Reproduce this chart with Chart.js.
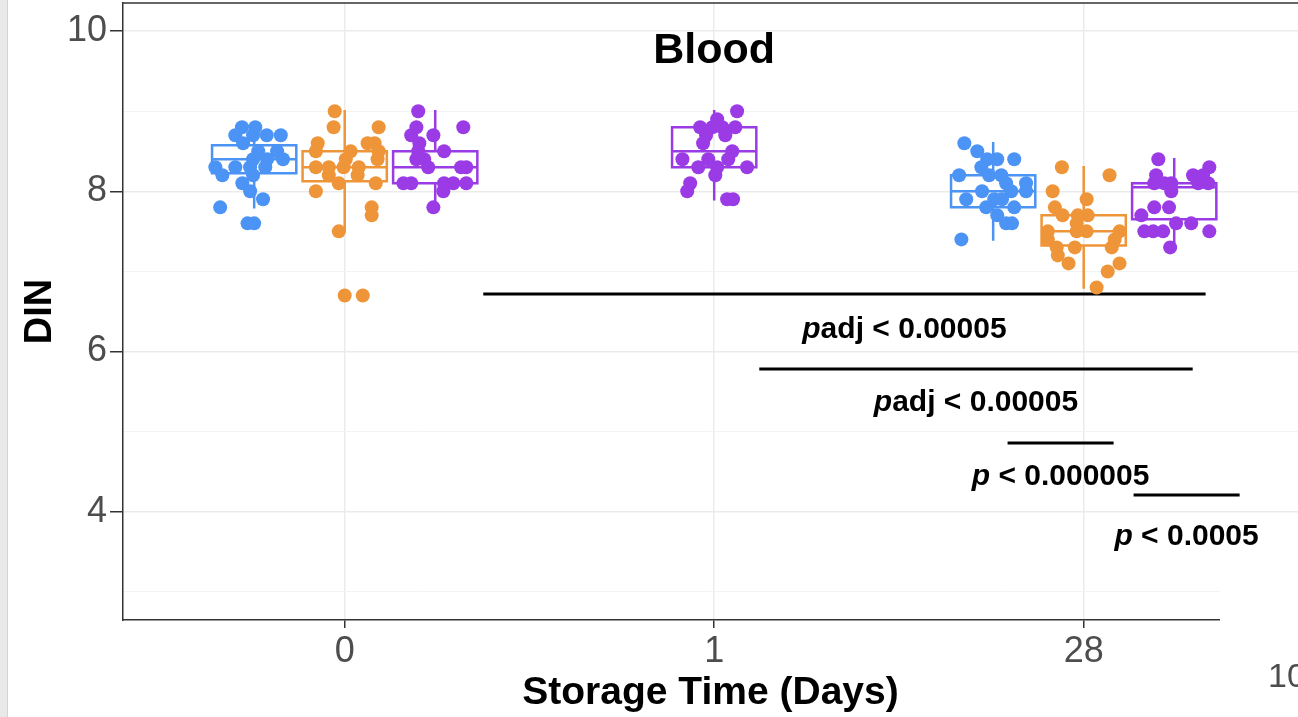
<!DOCTYPE html>
<html>
<head>
<meta charset="utf-8">
<title>DIN – Blood</title>
<script src="https://cdn.jsdelivr.net/npm/chart.js@4"></script>
<style>
  html, body { margin: 0; padding: 0; background: #fff; }
  canvas { display: block; }
</style>
</head>
<body>
<canvas id="chart-din" width="1298" height="717"></canvas>
<script>
// storage days on the x axis
const dayLabels = ['0', '1', '28'];

// one entry per box: day index, dodge slot (-1 left, 0 middle, 1 right), colour group
const boxDay = [0, 0, 0, 1, 2, 2, 2];
const boxSlot = [-1, 0, 1, 0, -1, 0, 1];
const boxGroup = [0, 1, 2, 2, 0, 1, 2];

// box statistics (DIN)
const boxLow  = [7.8, 7.5, 7.8, 7.9, 7.4, 6.8, 7.3];
const boxQ1   = [8.225, 8.125, 8.1, 8.3, 7.8, 7.325, 7.65];
const boxMed  = [8.4, 8.3, 8.3, 8.5, 8.0, 7.5, 8.05];
const boxQ3   = [8.575, 8.5, 8.5, 8.8, 8.2, 7.7, 8.1];
const boxHigh = [8.8, 9.0, 9.0, 9.0, 8.6, 8.3, 8.4];

// samples per box
const sampleDin = [
  [8.8, 8.8, 8.7, 8.7, 8.7, 8.7, 8.6, 8.5, 8.5, 8.4, 8.4, 8.4, 8.3, 8.3, 8.3, 8.3, 8.2, 8.2, 8.1, 8.0, 7.9, 7.8, 7.6, 7.6],
  [9.0, 8.8, 8.8, 8.6, 8.6, 8.6, 8.5, 8.5, 8.5, 8.4, 8.4, 8.3, 8.3, 8.3, 8.3, 8.2, 8.2, 8.1, 8.1, 8.0, 7.8, 7.7, 7.5, 6.7, 6.7],
  [9.0, 8.8, 8.8, 8.7, 8.7, 8.6, 8.5, 8.5, 8.4, 8.4, 8.3, 8.3, 8.3, 8.1, 8.1, 8.1, 8.1, 8.1, 8.0, 7.8],
  [9.0, 8.9, 8.8, 8.8, 8.8, 8.8, 8.7, 8.7, 8.6, 8.5, 8.4, 8.4, 8.4, 8.3, 8.3, 8.3, 8.2, 8.1, 8.0, 7.9, 7.9],
  [8.6, 8.5, 8.4, 8.4, 8.4, 8.3, 8.2, 8.2, 8.2, 8.1, 8.1, 8.0, 8.0, 8.0, 7.9, 7.9, 7.9, 7.8, 7.8, 7.7, 7.6, 7.6, 7.4],
  [8.3, 8.2, 8.0, 7.9, 7.8, 7.7, 7.7, 7.7, 7.6, 7.5, 7.5, 7.5, 7.5, 7.4, 7.4, 7.3, 7.3, 7.3, 7.2, 7.1, 7.1, 7.0, 6.8],
  [8.4, 8.3, 8.2, 8.2, 8.2, 8.1, 8.1, 8.1, 8.1, 8.1, 8.0, 7.8, 7.8, 7.7, 7.6, 7.6, 7.5, 7.5, 7.5, 7.5, 7.3]
];
// horizontal jitter of each sample, in category units
const sampleJitter = [
  [-0.033, 0.003, -0.051, -0.003, 0.034, 0.072, -0.030, 0.011, 0.062, 0.035, -0.003, 0.078, -0.105, -0.051, -0.011, 0.030, -0.086, -0.003, -0.032, -0.011, 0.024, -0.092, -0.018, 0.0],
  [-0.027, -0.030, 0.092, -0.073, 0.062, 0.081, -0.078, 0.016, 0.092, 0.003, 0.089, -0.078, -0.043, -0.003, 0.038, -0.043, 0.035, -0.016, 0.084, -0.078, 0.073, 0.073, -0.016, 0.0, 0.049],
  [-0.046, 0.076, -0.051, -0.065, -0.005, -0.043, 0.024, -0.046, -0.051, -0.030, -0.019, 0.084, 0.070, -0.086, -0.065, 0.024, 0.049, 0.084, 0.022, -0.005],
  [0.062, 0.008, -0.038, -0.005, 0.022, 0.057, -0.022, 0.030, -0.030, 0.049, -0.086, -0.016, 0.038, -0.043, 0.008, 0.089, 0.003, -0.065, -0.073, 0.035, 0.051],
  [-0.078, -0.043, -0.016, 0.011, 0.057, -0.032, -0.092, -0.011, 0.022, 0.089, 0.035, -0.030, 0.049, 0.089, -0.073, 0.003, 0.024, -0.019, 0.057, 0.011, 0.035, 0.051, -0.086],
  [-0.059, 0.070, -0.084, 0.008, -0.078, -0.057, -0.016, 0.011, -0.019, -0.097, -0.019, 0.008, 0.097, 0.084, -0.097, -0.073, -0.024, 0.076, -0.070, -0.041, 0.097, 0.065, 0.035],
  [-0.043, 0.095, -0.049, 0.051, 0.078, -0.027, -0.008, -0.054, 0.065, 0.092, -0.008, -0.054, -0.014, -0.089, 0.005, 0.046, -0.081, -0.057, -0.030, 0.095, -0.011]
];

// pairwise comparison brackets
const sigFrom = [0.375, 1.122, 1.794, 2.135];
const sigTo   = [2.330, 2.295, 2.081, 2.422];
const sigAt   = [6.718, 5.782, 4.858, 4.21];
const sigItalic = ['p', 'p', 'p', 'p'];
const sigRest   = ['adj < 0.00005', 'adj < 0.00005', ' < 0.000005', ' < 0.0005'];

// styling / layout
const groupColors = ['#4b93f4', '#ef9539', '#9a3be6'];
const DODGE = 0.245;
const BOX_HALF = 0.114;
const FONT = '"Liberation Sans", Arimo, Arial, sans-serif';
const labelNudgeX = [60, 0, 0, 0];
const labelDropY = [44, 42, 42, 50];

const xOf = i => boxDay[i] + boxSlot[i] * DODGE;

const datasets = [];

sampleDin.forEach((vals, i) => {
  datasets.push({
    type: 'scatter',
    data: vals.map((v, k) => ({ x: xOf(i) + sampleJitter[i][k], y: v })),
    backgroundColor: groupColors[boxGroup[i]],
    borderWidth: 0,
    pointRadius: 7,
    pointHoverRadius: 7,
    order: 0
  });
});

boxQ1.forEach((q1, i) => {
  const c = xOf(i), l = c - BOX_HALF, r = c + BOX_HALF;
  const q3 = boxQ3[i];
  const gap = { x: c, y: null };
  datasets.push({
    type: 'line',
    data: [
      { x: l, y: q1 }, { x: r, y: q1 }, { x: r, y: q3 }, { x: l, y: q3 }, { x: l, y: q1 }, gap,
      { x: l, y: boxMed[i] }, { x: r, y: boxMed[i] }, gap,
      { x: c, y: q3 }, { x: c, y: boxHigh[i] }, gap,
      { x: c, y: q1 }, { x: c, y: boxLow[i] }
    ],
    borderColor: groupColors[boxGroup[i]],
    borderWidth: 2.5,
    borderJoinStyle: 'miter',
    borderCapStyle: 'square',
    pointRadius: 0,
    fill: false,
    spanGaps: false,
    tension: 0,
    order: 1
  });
});

sigAt.forEach((v, i) => {
  datasets.push({
    type: 'line',
    data: [{ x: sigFrom[i], y: v }, { x: sigTo[i], y: v }],
    borderColor: '#000',
    borderWidth: 3,
    pointRadius: 0,
    fill: false,
    clip: false,
    order: 2
  });
});

const decorations = {
  id: 'decorations',
  beforeDraw(chart) {
    const { ctx } = chart;
    ctx.save();
    ctx.fillStyle = '#e9e9e9';
    ctx.fillRect(0, 0, 7, chart.height);
    ctx.fillStyle = '#d4d4d4';
    ctx.fillRect(7, 0, 1, chart.height);
    ctx.restore();
  },
  afterDraw(chart) {
    const { ctx, chartArea: a, scales: { x, y } } = chart;
    ctx.save();

    // top edge of the panel
    ctx.strokeStyle = '#333';
    ctx.lineWidth = 1.5;
    ctx.beginPath();
    ctx.moveTo(a.left, a.top);
    ctx.lineTo(a.right, a.top);
    ctx.stroke();

    // panel title
    ctx.fillStyle = '#000';
    ctx.textBaseline = 'alphabetic';
    ctx.textAlign = 'center';
    ctx.font = 'bold 43px ' + FONT;
    ctx.fillText('Blood', x.getPixelForValue(1), a.top + 60);

    // comparison labels: italic p followed by the rest
    ctx.textAlign = 'left';
    sigAt.forEach((v, i) => {
      const cx = (x.getPixelForValue(sigFrom[i]) + x.getPixelForValue(sigTo[i])) / 2 + labelNudgeX[i];
      const by = y.getPixelForValue(v) + labelDropY[i];
      ctx.font = 'italic bold 30px ' + FONT;
      const w1 = ctx.measureText(sigItalic[i]).width;
      ctx.font = 'bold 30px ' + FONT;
      const w2 = ctx.measureText(sigRest[i]).width;
      const x0 = cx - (w1 + w2) / 2;
      ctx.font = 'italic bold 30px ' + FONT;
      ctx.fillText(sigItalic[i], x0, by);
      ctx.font = 'bold 30px ' + FONT;
      ctx.fillText(sigRest[i], x0 + w1, by);
    });

    // blank corner with the edge of the next panel's tick label
    ctx.fillStyle = '#fff';
    ctx.fillRect(1220, 588, chart.width - 1220, chart.height - 588);
    ctx.fillStyle = '#4d4d4d';
    ctx.font = '34px ' + FONT;
    ctx.fillText('10', 1268, 687);

    ctx.restore();
  }
};

new Chart(document.getElementById('chart-din'), {
  type: 'scatter',
  data: { datasets },
  plugins: [decorations],
  options: {
    responsive: false,
    devicePixelRatio: 1,
    animation: false,
    layout: { autoPadding: false, padding: { top: 3, left: 0, right: 0, bottom: 0 } },
    plugins: {
      legend: { display: false },
      tooltip: { enabled: false }
    },
    scales: {
      x: {
        type: 'linear',
        min: -0.6,
        max: 2.58,
        afterBuildTicks: scale => { scale.ticks = [0, 1, 2].map(v => ({ value: v })); },
        afterFit: scale => {
          scale.height = 97;
          scale.paddingLeft = 0;
          scale.paddingRight = 0;
        },
        ticks: {
          callback: v => dayLabels[v],
          color: '#4d4d4d',
          font: { family: FONT, size: 36 },
          padding: 2,
          maxRotation: 0,
          autoSkip: false
        },
        grid: { color: '#ebebeb', lineWidth: 1.5, tickLength: 8, tickColor: '#333' },
        border: { color: '#333', width: 1.5 },
        title: {
          display: true,
          text: 'Storage Time (Days)',
          color: '#000',
          font: { family: FONT, size: 39, weight: 'bold' },
          padding: { top: 0, bottom: 0 }
        }
      },
      y: {
        min: 2.65,
        max: 10.35,
        afterBuildTicks: scale => { scale.ticks = [3, 4, 5, 6, 7, 8, 9, 10].map(v => ({ value: v })); },
        afterFit: scale => {
          scale.width = 123;
          scale.paddingTop = 0;
          scale.paddingBottom = 0;
        },
        ticks: {
          callback: v => (v % 2 === 0 ? String(v) : ''),
          color: '#4d4d4d',
          font: { family: FONT, size: 36 },
          padding: 3,
          autoSkip: false
        },
        grid: {
          color: c => (c.tick && c.tick.value % 2 === 0 ? '#ebebeb' : '#f3f3f3'),
          lineWidth: c => (c.tick && c.tick.value % 2 === 0 ? 1.5 : 1),
          tickLength: 13,
          tickColor: c => (c.tick && c.tick.value % 2 === 0 ? '#333' : 'rgba(0,0,0,0)')
        },
        border: { color: '#333', width: 1.5 },
        title: {
          display: true,
          text: 'DIN',
          color: '#000',
          font: { family: FONT, size: 38, weight: 'bold' },
          padding: { top: 18, bottom: 0 }
        }
      }
    }
  }
});
</script>
</body>
</html>
